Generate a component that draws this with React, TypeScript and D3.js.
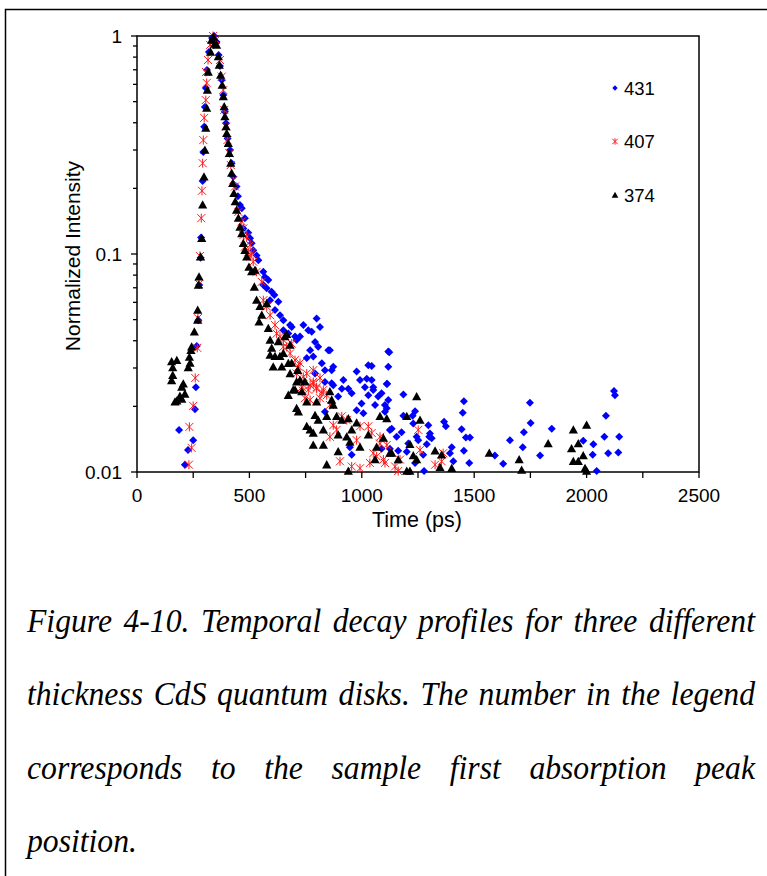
import { useEffect, useRef } from 'react';
import * as d3 from 'd3';

// time (ps), normalized intensity, points under 0.01 are off-chart
const decay431: [number, number][] = [
  [187, 0.0156], [213, 0.0108], [227, 0.0126], [250, 0.014], [258, 0.0194], [262, 0.0245], [266, 0.0378], [273, 0.0497], [277, 0.072], [283, 0.096], [285, 0.119], [292, 0.216], [295, 0.294], [299, 0.383], [302, 0.472], [306, 0.577], [311, 0.698], [320, 0.845],
  [334, 0.979], [343, 1.0], [354, 0.939],
  [363, 0.818], [369, 0.728], [377, 0.628], [384, 0.536], [391, 0.449], [396, 0.398], [403, 0.339], [414, 0.3], [421, 0.261], [428, 0.226], [443, 0.204], [449, 0.184], [458, 0.168], [466, 0.162], [480, 0.146], [473, 0.131], [495, 0.125], [503, 0.118], [510, 0.112], [517, 0.104], [532, 0.0985], [540, 0.0937],
  [562, 0.0828], [569, 0.0785], [584, 0.0759], [562, 0.072], [577, 0.0697], [599, 0.0672], [611, 0.0648], [592, 0.0614], [629, 0.0604], [614, 0.0553], [636, 0.0524], [651, 0.0497], [681, 0.0472], [688, 0.0463], [651, 0.0447], [673, 0.0432], [703, 0.0418], [725, 0.0418], [740, 0.0472], [762, 0.0447], [799, 0.0506], [814, 0.0463], [792, 0.0395], [806, 0.0375], [770, 0.0362], [710, 0.0403], [755, 0.0333], [784, 0.0339], [822, 0.0315], [851, 0.0362], [836, 0.0293], [792, 0.0283], [836, 0.0259], [866, 0.0255], [777, 0.044], [858, 0.0362], [873, 0.0304], [866, 0.0293],
  [1118, 0.0357], [1029, 0.0309], [977, 0.0289], [918, 0.0264], [873, 0.025], [911, 0.0241], [940, 0.0241], [992, 0.0264], [1022, 0.0268], [1014, 0.0245], [1051, 0.0238], [1111, 0.0253], [955, 0.023], [1029, 0.0225], [1073, 0.0222], [999, 0.0206], [1059, 0.0203], [1118, 0.0214], [1111, 0.0196], [895, 0.0222], [836, 0.0189], [977, 0.0192], [1007, 0.0186], [1125, 0.0156], [1155, 0.0145], [1125, 0.0128], [955, 0.012], [947, 0.013], [1207, 0.0135],
  [1044, 0.0306], [1122, 0.0354], [1118, 0.0304], [1113, 0.0254], [1044, 0.0264], [1051, 0.0245], [1088, 0.023], [1103, 0.0203], [1185, 0.0227], [1237, 0.019], [1185, 0.0181], [1226, 0.0181], [1103, 0.0189], [1229, 0.0167], [1133, 0.0158], [1177, 0.0152], [1244, 0.0145], [1251, 0.014], [1296, 0.0164], [1300, 0.0145], [1311, 0.0143], [1289, 0.0134], [1303, 0.015], [1088, 0.0128], [1162, 0.0125], [1200, 0.0124], [1273, 0.012], [1237, 0.011], [1277, 0.0101],
  [1366, 0.017], [1374, 0.0162], [1400, 0.013], [1392, 0.0122], [1407, 0.0112], [1444, 0.0157], [1454, 0.0211], [1449, 0.0187], [1463, 0.0144], [1481, 0.0144], [1454, 0.0125], [1478, 0.011],
  [1592, 0.0119], [1629, 0.0109], [1659, 0.014], [1716, 0.013], [1721, 0.0152], [1748, 0.0208], [1751, 0.0168], [1793, 0.0119], [1845, 0.0158], [1985, 0.0139], [2030, 0.0134], [2027, 0.012], [2045, 0.0101], [2079, 0.0145], [2086, 0.0181], [2096, 0.0122], [2122, 0.0235], [2126, 0.0225], [2145, 0.0145], [2141, 0.0123],
];

const decay407: [number, number][] = [
  [231, 0.0108], [243, 0.0129], [233, 0.0161], [250, 0.0201], [259, 0.027], [268, 0.0371], [271, 0.0508], [276, 0.0728], [280, 0.0979], [286, 0.146], [289, 0.195], [292, 0.261], [295, 0.333], [299, 0.421], [306, 0.508], [310, 0.609], [307, 0.684], [316, 0.776], [325, 0.91],
  [338, 1.0], [351, 0.959],
  [369, 0.776], [377, 0.651], [384, 0.565], [388, 0.458], [396, 0.384], [402, 0.333], [411, 0.29], [417, 0.256], [428, 0.218], [436, 0.204], [451, 0.156], [466, 0.141], [473, 0.131], [473, 0.122], [488, 0.12], [480, 0.108], [495, 0.102], [503, 0.11], [503, 0.0975], [510, 0.101], [517, 0.0921], [532, 0.0828], [555, 0.0745], [562, 0.0614], [577, 0.0575], [592, 0.0524], [614, 0.0472], [621, 0.0431], [636, 0.0418], [651, 0.0403], [666, 0.0375], [688, 0.0388], [681, 0.035], [703, 0.0326], [725, 0.0316], [710, 0.0283], [755, 0.0283], [770, 0.025], [784, 0.0259], [799, 0.0245], [822, 0.023], [814, 0.027], [733, 0.0245], [651, 0.0375], [718, 0.0304], [740, 0.0273], [784, 0.0293], [784, 0.0255], [799, 0.0241], [829, 0.0238], [762, 0.0238], [770, 0.0214], [814, 0.0218], [738, 0.0236], [747, 0.0218], [844, 0.0225], [858, 0.0203], [888, 0.0156],
  [911, 0.018], [873, 0.0164], [858, 0.0145], [933, 0.0173], [992, 0.0162], [1029, 0.0162], [1044, 0.0151], [1081, 0.0135], [1111, 0.0133], [977, 0.014], [903, 0.0112], [955, 0.0106], [992, 0.0104], [1066, 0.0118], [1103, 0.011], [1148, 0.0106], [1170, 0.0114], [1162, 0.0101], [1036, 0.011], [1081, 0.0145], [1051, 0.0122], [1096, 0.0114], [1251, 0.0156], [1259, 0.0126], [1326, 0.0108], [1362, 0.0122], [1355, 0.0112],
];

const decay374: [number, number][] = [
  [154, 0.0321], [159, 0.0301], [159, 0.0278], [154, 0.0263], [169, 0.021], [177, 0.0325], [177, 0.0212], [191, 0.0223], [199, 0.0245], [199, 0.0216], [206, 0.0254], [213, 0.0228], [228, 0.0301], [233, 0.0337], [236, 0.0316], [240, 0.0362], [243, 0.0375], [255, 0.044], [270, 0.0497], [270, 0.0553], [273, 0.072], [276, 0.0785], [283, 0.0971], [288, 0.118], [292, 0.168], [298, 0.226], [302, 0.3], [306, 0.378], [310, 0.467], [313, 0.565], [317, 0.684], [327, 0.845],
  [332, 0.959], [340, 0.99], [345, 0.919], [354, 0.909],
  [362, 0.804], [366, 0.736], [372, 0.662], [379, 0.596], [384, 0.527], [388, 0.474], [391, 0.427], [396, 0.384], [399, 0.358], [406, 0.322], [411, 0.29], [417, 0.261], [421, 0.235], [426, 0.211], [431, 0.19], [437, 0.174], [443, 0.159], [451, 0.146], [458, 0.133], [466, 0.124], [473, 0.112], [480, 0.104], [488, 0.097],
  [498, 0.087], [510, 0.083], [525, 0.0843], [522, 0.0706], [532, 0.0614], [547, 0.0575], [555, 0.0524], [543, 0.0489], [577, 0.0593], [584, 0.0456], [592, 0.0403], [599, 0.037], [629, 0.0397], [658, 0.0418], [592, 0.0344], [614, 0.0339], [636, 0.0339], [651, 0.035], [606, 0.0304], [644, 0.0304], [688, 0.0316], [681, 0.0283], [710, 0.0259], [725, 0.0264], [747, 0.0259], [703, 0.0238], [733, 0.0234], [673, 0.0225],
  [666, 0.0428], [681, 0.0382], [673, 0.0315], [715, 0.0293], [695, 0.0238], [755, 0.021], [710, 0.0196], [718, 0.0189], [799, 0.021], [858, 0.0234], [866, 0.0214], [873, 0.0203], [844, 0.018], [792, 0.0182], [806, 0.0173], [755, 0.0162], [770, 0.0156], [784, 0.0151], [829, 0.0156], [784, 0.0133], [829, 0.0133], [888, 0.018], [911, 0.0173], [940, 0.0176], [895, 0.0148], [933, 0.0145], [955, 0.0156], [947, 0.0137], [977, 0.0168], [992, 0.013], [1029, 0.0148], [1066, 0.013], [895, 0.0124], [844, 0.0108], [940, 0.0101], [1059, 0.0114], [1096, 0.0143], [1081, 0.018], [1111, 0.0176], [1125, 0.0122], [1200, 0.018], [1200, 0.0101], [1162, 0.0114],
  [1244, 0.0222], [1259, 0.0173], [1214, 0.0134], [1133, 0.0122], [1229, 0.0119], [1244, 0.0114], [1214, 0.0101], [1326, 0.0125], [1355, 0.012], [1348, 0.0105], [1400, 0.0104], [1567, 0.0122], [1700, 0.0114], [1711, 0.0102], [1829, 0.0135], [1941, 0.0156], [2000, 0.0164], [1963, 0.0135], [1933, 0.0128], [1985, 0.0119], [1941, 0.0112], [1963, 0.0112], [1993, 0.0104], [2000, 0.0101],
];

const seriesNames = ['431', '407', '374'];
const xTicks = [0, 500, 1000, 1500, 2000, 2500];
const xMinorTicks = [250, 750, 1250, 1750, 2250];
const yTicks = [0.01, 0.1, 1];
const yTickLabels = ['0.01', '0.1', '1'];
const captionLines = [
  'Figure 4-10. Temporal decay profiles for three different',
  'thickness CdS quantum disks. The number in the legend',
  'corresponds to the sample first absorption peak',
  'position.',
];

const W = 767;
const H = 876;
const sans = "'Liberation Sans', Arial, sans-serif";
const capScale = 0.96; // caption font is a little condensed

const diamond = (r: number) => `M0,${-r}L${r},0L0,${r}L${-r},0Z`;
const star = (r: number) => `M${-r},${-r}L${r},${r}M${-r},${r}L${r},${-r}M0,${-r - 0.5}L0,${r + 0.5}`;
const triangle = (r: number) => `M0,${-r}L${r},${r * 0.8}L${-r},${r * 0.8}Z`;

const Marker = ({ kind, r }: { kind: number; r: number }) => {
  if (kind === 0) return <path d={diamond(r)} fill="#0000ff" />;
  if (kind === 1) return <path d={star(r)} fill="none" stroke="#ff1a1a" strokeWidth={1} />;
  return <path d={triangle(r + 0.6)} fill="#000" />;
};

const App = () => {
  const capRef = useRef<SVGGElement>(null);

  const x = d3.scaleLinear().domain([0, 2500]).range([137, 699]);
  const y = d3.scaleLog().domain([0.01, 1]).range([472, 36]);

  const yMinor: number[] = [];
  [0.01, 0.1].forEach((d) => {
    for (let k = 2; k <= 9; k++) yMinor.push(d * k);
  });

  const series = [decay431, decay407, decay374];

  useEffect(() => {
    if (!capRef.current) return;
    const g = d3.select(capRef.current);
    g.selectAll('*').remove();
    const left = 27 / capScale;
    const right = 755 / capScale;
    captionLines.forEach((line, i) => {
      const words = line.split(' ');
      const yy = 632 + i * 73.5;
      const texts = words.map((w) => g.append('text').attr('y', yy).text(w));
      const widths = texts.map((t) => (t.node() as SVGTextElement).getComputedTextLength());
      const last = i === captionLines.length - 1;
      const gap = last || words.length < 2 ? 8 : (right - left - d3.sum(widths)) / (words.length - 1);
      let xx = left;
      texts.forEach((t, j) => {
        t.attr('x', xx);
        xx += widths[j] + gap;
      });
    });
  }, []);

  return (
    <svg width={W} height={H} style={{ position: 'absolute', left: 0, top: 0, background: '#fff' }}>
      <rect x={5.5} y={9.5} width={W + 20} height={H + 20} fill="none" stroke="#000" strokeWidth={1.5} />

      {/* axes frame */}
      <rect x={137} y={36} width={699 - 137} height={472 - 36} fill="none" stroke="#000" strokeWidth={1.5} />

      {yTicks.map((d) => (
        <line key={'ym' + d} x1={131} x2={137} y1={y(d)} y2={y(d)} stroke="#000" strokeWidth={1.3} />
      ))}
      {yMinor.map((d) => (
        <line key={'yn' + d} x1={133} x2={137} y1={y(d)} y2={y(d)} stroke="#000" strokeWidth={1.3} />
      ))}
      {[...xTicks, ...xMinorTicks].map((d) => (
        <line key={'x' + d} x1={x(d)} x2={x(d)} y1={472} y2={478} stroke="#000" strokeWidth={1.3} />
      ))}

      <g fontFamily={sans} fontSize={19} fill="#000">
        {yTicks.map((d, i) => (
          <text key={'yl' + d} x={122} y={y(d)} dy="0.36em" textAnchor="end">
            {yTickLabels[i]}
          </text>
        ))}
        {xTicks.map((d) => (
          <text key={'xl' + d} x={x(d)} y={502} textAnchor="middle">
            {d}
          </text>
        ))}
      </g>

      <text x={417} y={527} textAnchor="middle" fontFamily={sans} fontSize={21.5}>
        Time (ps)
      </text>
      <text transform={`translate(80,${y(0.1) + 2}) rotate(-90)`} textAnchor="middle" fontFamily={sans} fontSize={21}>
        Normalized Intensity
      </text>

      {series.map((s, k) => (
        <g key={'s' + k}>
          {s.map(([t, v], i) => (
            <g key={i} transform={`translate(${x(t)},${y(v)})`}>
              <Marker kind={k} r={4} />
            </g>
          ))}
        </g>
      ))}

      {seriesNames.map((n, k) => (
        <g key={'lg' + n} transform={`translate(615,${88 + k * 53.5})`}>
          <Marker kind={k} r={2.7} />
          <text x={9} y={0} dy="0.36em" fontFamily={sans} fontSize={18.5}>
            {n}
          </text>
        </g>
      ))}

      <g
        ref={capRef}
        transform={`scale(${capScale},1)`}
        fontFamily="'Liberation Serif', 'Times New Roman', serif"
        fontStyle="italic"
        fontSize={33}
        fill="#000"
      />
    </svg>
  );
};

export default App;
